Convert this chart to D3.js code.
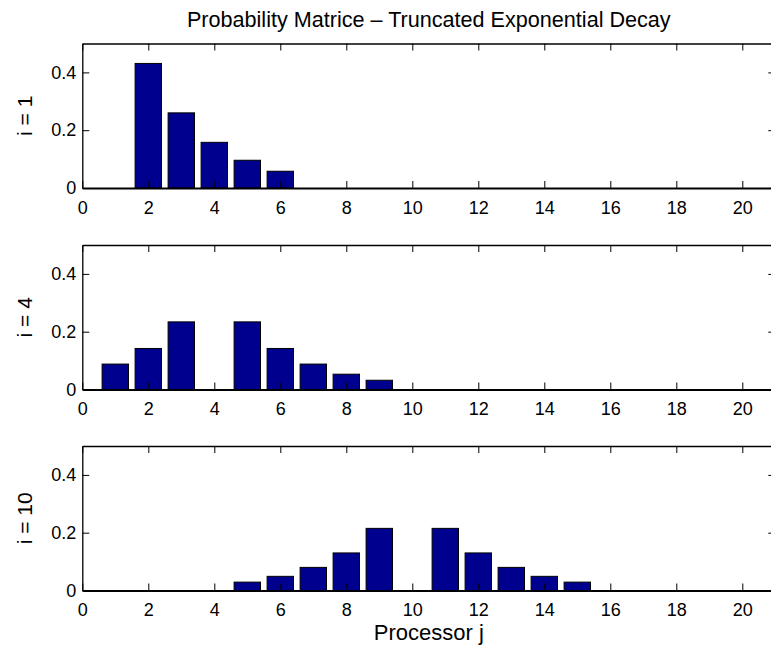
<!DOCTYPE html>
<html>
<head>
<meta charset="utf-8">
<script src="https://cdn.jsdelivr.net/npm/d3@7"></script>
<style>
    body { margin: 0; background: #fff; }
    text { font-family: "Liberation Sans", Arial, Helvetica, sans-serif; fill: #000; }
</style>
</head>
<body>
<svg id="chart" width="771" height="652"></svg>
<script>
// data
const processors = [1, 2, 3, 4, 5, 6, 7, 8, 9, 10, 11, 12, 13, 14, 15, 16, 17, 18, 19, 20];
const rowLabels = ["i = 1", "i = 4", "i = 10"];
const probI1 = [0, 0.431, 0.260, 0.158, 0.096, 0.058, 0, 0, 0, 0, 0, 0, 0, 0, 0, 0, 0, 0, 0, 0];
const probI4 = [0.088, 0.142, 0.234, 0, 0.234, 0.142, 0.088, 0.053, 0.032, 0, 0, 0, 0, 0, 0, 0, 0, 0, 0, 0];
const probI10 = [0, 0, 0, 0, 0.029, 0.049, 0.080, 0.130, 0.215, 0, 0.215, 0.130, 0.080, 0.049, 0.029, 0, 0, 0, 0, 0];
const xTicks = [0, 2, 4, 6, 8, 10, 12, 14, 16, 18, 20];
const yTicks = [0, 0.2, 0.4];
const titleText = "Probability Matrice \u2013 Truncated Exponential Decay";
const xLabelText = "Processor j";

const rows = [probI1, probI4, probI10];

// constants
const left = 82.3, right = 775.3;
const plotTops = [43.5, 245, 446];
const plotH = 144.5;
const tickLen = 7;
const barColor = "#00008f";

const svg = d3.select("#chart");

// shared x scale
const xScale = d3.scaleLinear().domain([0, 21]).range([left, right]);

rows.forEach((values, r) => {
    const top = plotTops[r];
    const yScale = d3.scaleLinear().domain([0, 0.5]).range([top + plotH, top]);
    const g = svg.append("g");

    // bars (zero bars too, they draw the thick baseline)
    g.selectAll("rect")
        .data(processors)
        .join("rect")
        .attr("x", d => xScale(d - 0.4))
        .attr("width", xScale(0.8) - xScale(0))
        .attr("y", (d, i) => yScale(values[i]))
        .attr("height", (d, i) => yScale(0) - yScale(values[i]))
        .attr("fill", barColor)
        .attr("stroke", "#000")
        .attr("stroke-width", 1);

    // bottom axis, ticks pointing inward
    const xAxis = d3.axisBottom(xScale).tickValues(xTicks).tickSizeInner(-tickLen).tickSizeOuter(0).tickPadding(13);
    const xg = g.append("g").attr("transform", `translate(0, ${top + plotH})`).call(xAxis);

    // top axis, ticks only
    const topAxis = d3.axisTop(xScale).tickValues(xTicks).tickSizeInner(-tickLen).tickSizeOuter(0).tickFormat("");
    const tg = g.append("g").attr("transform", `translate(0, ${top})`).call(topAxis);

    // left axis
    const yAxis = d3.axisLeft(yScale).tickValues(yTicks).tickSizeInner(-tickLen).tickSizeOuter(0).tickPadding(6).tickFormat(d => d === 0 ? "0" : d3.format(".1f")(d));
    const yg = g.append("g").attr("transform", `translate(${left}, 0)`).call(yAxis);

    // right axis, ticks only
    const rightAxis = d3.axisRight(yScale).tickValues(yTicks).tickSizeInner(-tickLen).tickSizeOuter(0).tickFormat("");
    const rg = g.append("g").attr("transform", `translate(${right}, 0)`).call(rightAxis);

    [xg, tg, yg, rg].forEach(a => {
        a.select(".domain").attr("stroke", "#000").attr("stroke-width", 1.3);
        a.selectAll(".tick line").attr("stroke", "#000").attr("stroke-width", 1);
        a.selectAll(".tick text").style("font-size", "18px").attr("fill", "#000");
    });
    xg.select(".domain").attr("stroke-width", 2);

    // row label
    g.append("text")
        .attr("transform", `translate(32, ${top + plotH / 2}) rotate(-90)`)
        .attr("text-anchor", "middle")
        .style("font-size", "21px")
        .text(rowLabels[r]);
});

// title
svg.append("text")
    .attr("x", (left + right) / 2)
    .attr("y", 27)
    .attr("text-anchor", "middle")
    .style("font-size", "21.6px")
    .text(titleText);

// x label
svg.append("text")
    .attr("x", (left + right) / 2)
    .attr("y", 640)
    .attr("text-anchor", "middle")
    .style("font-size", "22px")
    .text(xLabelText);
</script>
</body>
</html>
